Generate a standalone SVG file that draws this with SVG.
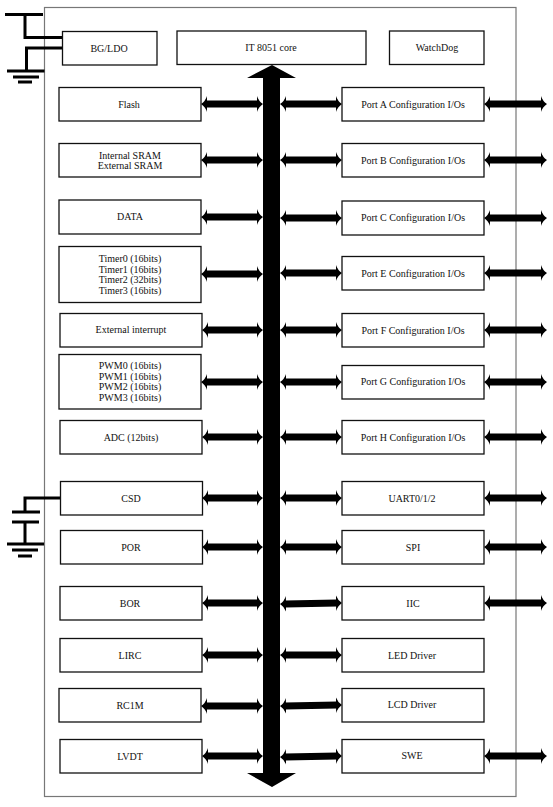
<svg xmlns="http://www.w3.org/2000/svg" width="553" height="807" viewBox="0 0 553 807">
<style>
.b{fill:#fff;stroke:#111;stroke-width:1.3}
.o{fill:#fff;stroke:#777;stroke-width:1.2}
text{font-family:"Liberation Serif","Times New Roman",serif;font-size:10px;fill:#111;text-anchor:middle}
.w{stroke:#000;stroke-width:3;fill:none}
.a{stroke:#000;stroke-width:7;fill:none;marker-start:url(#h);marker-end:url(#h)}
</style>
<defs>
<marker id="h" viewBox="0 0 6 16" refX="1" refY="8" markerWidth="6" markerHeight="16" markerUnits="userSpaceOnUse" orient="auto-start-reverse"><path d="M0 0Q1.5 5 6 8Q1.500 11 0 16Z" fill="#000"/></marker>
</defs>
<rect width="553" height="807" fill="#fff"/>
<rect id="chip" class="o" x="44.5" y="7.5" width="471.5" height="789"/>
<g id="connectors">
<path class="w" d="M5 14.5H43M25 14.5V37.5H62M62 48H26.500V71M7 71H44.500"/>
<path class="w" d="M13 77H39M18 82H32"/>
<path class="w" d="M62 498H25V512M12 512H40M12 522H39M25 522V544M7 544H44M12 550H38M18 556H32"/>
<path id="bus" d="M272 65L296 78H280V773H296L272 787L247 773H263V78H247Z" fill="#000"/>
<g>
<path class="a" d="M206 104H258"/><path class="a" d="M206 160H258"/><path class="a" d="M206 217H258"/><path class="a" d="M206 274H258"/><path class="a" d="M207 330H258"/><path class="a" d="M206 382H258"/><path class="a" d="M207 437H258"/><path class="a" d="M207 498H258"/><path class="a" d="M207 547H258"/><path class="a" d="M207 603H258"/><path class="a" d="M207 655H258"/><path class="a" d="M206 706H258"/><path class="a" d="M207 756H258"/>
</g>
<g>
<path class="a" d="M285 104H337"/><path class="a" d="M285 160H337"/><path class="a" d="M285 218H337"/><path class="a" d="M285 273H337"/><path class="a" d="M285 330H337"/><path class="a" d="M285 382H337"/><path class="a" d="M285 437H337"/><path class="a" d="M285 498H337"/><path class="a" d="M285 547H337"/><path class="a" d="M285 604L337 603"/><path class="a" d="M285 655H337"/><path class="a" d="M285 706L337 705"/><path class="a" d="M285 757L337 756"/>
</g>
<g>
<path class="a" d="M489 104H542"/><path class="a" d="M489 160H542"/><path class="a" d="M489 218H542"/><path class="a" d="M489 273H542"/><path class="a" d="M489 330H542"/><path class="a" d="M489 382H542"/><path class="a" d="M489 437H542"/><path class="a" d="M489 498H542"/><path class="a" d="M489 547H542"/><path class="a" d="M489 603H542"/><path class="a" d="M489 756H542"/>
</g>
</g>
<g id="bgldo"><rect class="b" x="62.500" y="31.500" width="94.500" height="33.500"/><text x="109" y="52">BG/LDO</text></g>
<g id="core"><rect class="b" x="177" y="31" width="189" height="33.500"/><text x="271" y="51">IT 8051 core</text></g>
<g id="watchdog"><rect class="b" x="389.500" y="31" width="94.500" height="33.500"/><text x="437" y="51">WatchDog</text></g>
<g id="flash"><rect class="b" x="59" y="87.500" width="142" height="33.500"/><text x="129" y="108">Flash</text></g>
<g id="sram"><rect class="b" x="59" y="143.500" width="142" height="33.500"/><text x="130" y="159">Internal SRAM</text><text x="130" y="169">External SRAM</text></g>
<g id="data"><rect class="b" x="59" y="200" width="142" height="34"/><text x="130" y="220">DATA</text></g>
<g id="timers"><rect class="b" x="59" y="246.500" width="142" height="56"/><text x="130" y="262">Timer0 (16bits)</text><text x="130" y="273">Timer1 (16bits)</text><text x="130" y="283">Timer2 (32bits)</text><text x="130" y="294">Timer3 (16bits)</text></g>
<g id="extint"><rect class="b" x="60" y="313.500" width="142" height="33.500"/><text x="131" y="333">External interrupt</text></g>
<g id="pwm"><rect class="b" x="59" y="354.500" width="142" height="54.500"/><text x="130" y="369">PWM0 (16bits)</text><text x="130" y="380">PWM1 (16bits)</text><text x="130" y="390">PWM2 (16bits)</text><text x="130" y="401">PWM3 (16bits)</text></g>
<g id="adc"><rect class="b" x="60" y="420.500" width="142" height="33.500"/><text x="131" y="441">ADC (12bits)</text></g>
<g id="csd"><rect class="b" x="60.500" y="481.500" width="142" height="33.500"/><text x="131" y="502">CSD</text></g>
<g id="por"><rect class="b" x="60.500" y="530.500" width="142" height="33.500"/><text x="131" y="551">POR</text></g>
<g id="bor"><rect class="b" x="60" y="586.500" width="142" height="33.500"/><text x="130" y="607">BOR</text></g>
<g id="lirc"><rect class="b" x="60" y="638.500" width="142" height="33.500"/><text x="130" y="659">LIRC</text></g>
<g id="rc1m"><rect class="b" x="59" y="688.500" width="142" height="33.500"/><text x="130" y="709">RC1M</text></g>
<g id="lvdt"><rect class="b" x="60" y="739.500" width="142" height="33.500"/><text x="130" y="760">LVDT</text></g>
<g id="porta"><rect class="b" x="342" y="87.500" width="142" height="33.500"/><text x="413" y="108">Port A Configuration I/Os</text></g>
<g id="portb"><rect class="b" x="342" y="143.500" width="142" height="33.500"/><text x="413" y="164">Port B Configuration I/Os</text></g>
<g id="portc"><rect class="b" x="342" y="201" width="142" height="34"/><text x="413" y="221">Port C Configuration I/Os</text></g>
<g id="porte"><rect class="b" x="342" y="256.500" width="142" height="33.500"/><text x="413" y="277">Port E Configuration I/Os</text></g>
<g id="portf"><rect class="b" x="342" y="313.500" width="142" height="33.500"/><text x="413" y="334">Port F Configuration I/Os</text></g>
<g id="portg"><rect class="b" x="342" y="365.500" width="142" height="33.500"/><text x="413" y="385">Port G Configuration I/Os</text></g>
<g id="porth"><rect class="b" x="342" y="420.500" width="142" height="33.500"/><text x="413" y="441">Port H Configuration I/Os</text></g>
<g id="uart"><rect class="b" x="342" y="481.500" width="142" height="33.500"/><text x="412" y="502">UART0/1/2</text></g>
<g id="spi"><rect class="b" x="342" y="530.500" width="142" height="33.500"/><text x="413" y="551">SPI</text></g>
<g id="iic"><rect class="b" x="342" y="586.500" width="142" height="33.500"/><text x="413" y="607">IIC</text></g>
<g id="led"><rect class="b" x="342" y="638.500" width="142" height="33.500"/><text x="412" y="659">LED Driver</text></g>
<g id="lcd"><rect class="b" x="342" y="688.500" width="142" height="33.500"/><text x="412" y="708">LCD Driver</text></g>
<g id="swe"><rect class="b" x="342" y="739.500" width="142" height="33.500"/><text x="412" y="759">SWE</text></g>
</svg>
